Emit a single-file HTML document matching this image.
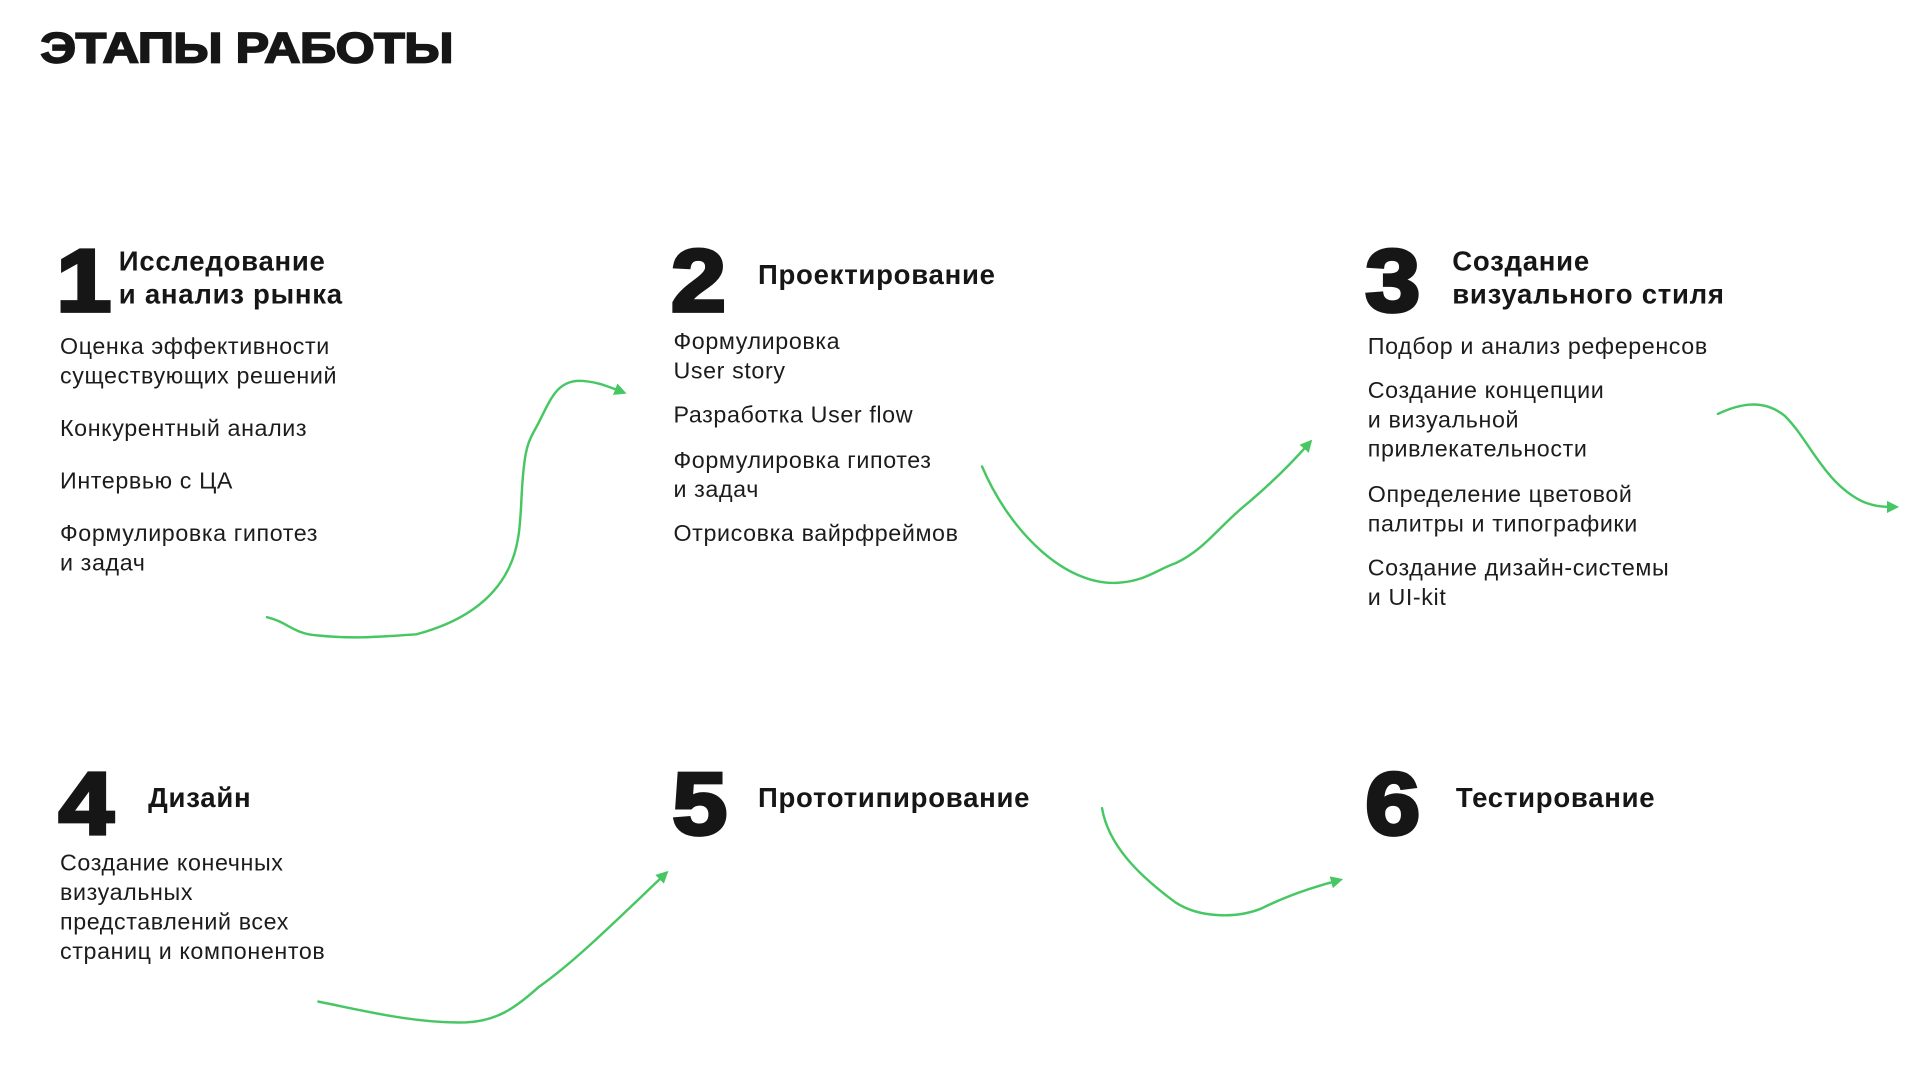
<!DOCTYPE html>
<html><head><meta charset="utf-8"><style>
html,body{margin:0;padding:0;background:#fff;width:1920px;height:1080px;overflow:hidden}
#w{position:absolute;left:0;top:0;width:1568px;height:882px;transform:scale(1.22449);transform-origin:0 0;font-family:"Liberation Sans","DejaVu Sans",sans-serif;color:#161616}
.t{position:absolute;left:33px;top:20px;font-size:35px;font-weight:bold;letter-spacing:-0.3px;transform:scaleX(1.17);transform-origin:0 0;-webkit-text-stroke:1.4px #161616;white-space:nowrap}
.n{position:absolute;font-size:72px;font-weight:bold;line-height:72px;-webkit-text-stroke:3px #161616;transform:scaleX(1.12);transform-origin:0 0}
.h{position:absolute;font-size:22.5px;font-weight:bold;line-height:27px;white-space:nowrap;letter-spacing:0.6px}
.b{position:absolute;font-size:19px;line-height:24px;white-space:nowrap;color:#1c1c1c;letter-spacing:0.5px;margin-top:2px}
svg{position:absolute;left:0;top:0}
</style></head><body><div id="w">
<div class="t">ЭТАПЫ РАБОТЫ</div>

<div class="n" style="left:46px;top:194px">1</div>
<div class="h" style="left:97px;top:200px">Исследование<br>и анализ рынка</div>
<div class="b" style="left:49px;top:270px">Оценка эффективности<br>существующих решений</div>
<div class="b" style="left:49px;top:337px">Конкурентный анализ</div>
<div class="b" style="left:49px;top:380px">Интервью с ЦА</div>
<div class="b" style="left:49px;top:423px">Формулировка гипотез<br>и задач</div>

<div class="n" style="left:548px;top:194px">2</div>
<div class="h" style="left:619px;top:211px">Проектирование</div>
<div class="b" style="left:550px;top:266px">Формулировка<br>User story</div>
<div class="b" style="left:550px;top:326px">Разработка User flow</div>
<div class="b" style="left:550px;top:363px">Формулировка гипотез<br>и задач</div>
<div class="b" style="left:550px;top:423px">Отрисовка вайрфреймов</div>

<div class="n" style="left:1115px;top:194px">3</div>
<div class="h" style="left:1186px;top:200px">Создание<br>визуального стиля</div>
<div class="b" style="left:1117px;top:270px">Подбор и анализ референсов</div>
<div class="b" style="left:1117px;top:306px">Создание концепции<br>и визуальной<br>привлекательности</div>
<div class="b" style="left:1117px;top:391px">Определение цветовой<br>палитры и типографики</div>
<div class="b" style="left:1117px;top:451px">Создание дизайн-системы<br>и UI-kit</div>

<div class="n" style="left:48px;top:621px">4</div>
<div class="h" style="left:121px;top:638px">Дизайн</div>
<div class="b" style="left:49px;top:692px">Создание конечных<br>визуальных<br>представлений всех<br>страниц и компонентов</div>

<div class="n" style="left:549px;top:621px">5</div>
<div class="h" style="left:619px;top:638px">Прототипирование</div>

<div class="n" style="left:1115px;top:621px">6</div>
<div class="h" style="left:1189px;top:638px">Тестирование</div>

<svg width="1568" height="882" viewBox="0 0 1568 882">
<defs><marker id="a" markerWidth="10" markerHeight="10" refX="6" refY="5" orient="auto" markerUnits="userSpaceOnUse"><path d="M0,0 L10,5 L0,10 Z" fill="#47c763"/></marker></defs>
<g fill="none" stroke="#47c763" stroke-width="2" stroke-linecap="round">
<path d="M218,504 C235,508 240,518 260,519 C290,522 310,520 340,518 C370,510 400,495 415,465 C428,440 424,410 428,380 C430,360 435,355 440,345 C450,325 455,312 472,311 C485,311 495,315 508,320" marker-end="url(#a)"/>
<path d="M802,381 C825,435 870,478 912,476 C935,475 945,465 960,460 C985,448 995,430 1020,410 C1040,393 1055,378 1069,362" marker-end="url(#a)"/>
<path d="M1403,338 C1420,330 1440,325 1458,340 C1478,360 1490,395 1522,410 C1532,414 1540,414 1547,414" marker-end="url(#a)"/>
<path d="M260,818 C300,826 340,836 380,835 C405,834 420,824 440,806 C470,785 505,750 543,714" marker-end="url(#a)"/>
<path d="M900,660 C905,690 930,715 960,737 C980,750 1010,750 1030,742 C1050,732 1070,725 1093,719" marker-end="url(#a)"/>
</g></svg>
</div></body></html>
